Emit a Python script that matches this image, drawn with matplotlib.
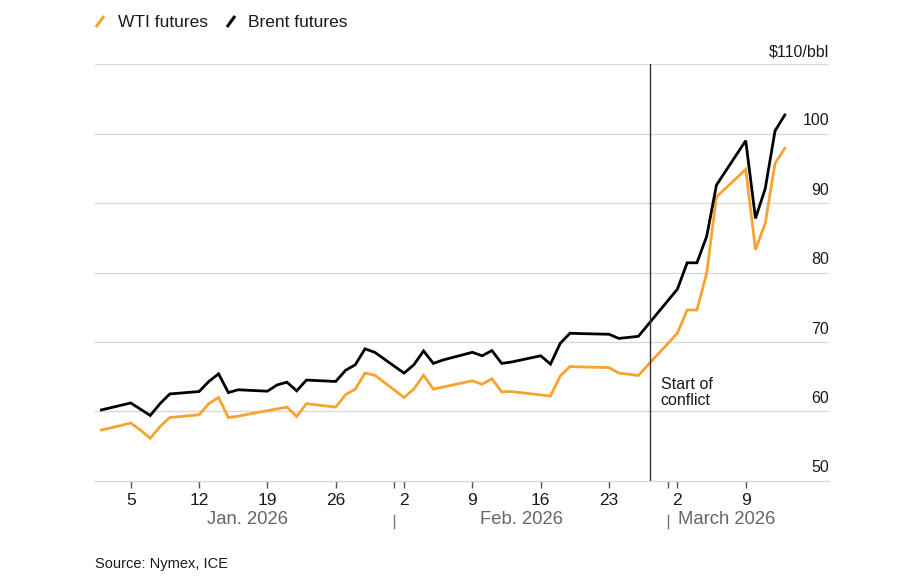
import pandas as pd
import matplotlib
matplotlib.use("Agg")
import matplotlib.pyplot as plt
import matplotlib.transforms as mtransforms
from matplotlib.lines import Line2D

plt.rcParams['font.family'] = ['Liberation Sans', 'DejaVu Sans']

# Brent futures, $/bbl
brent_dates = ['2026-01-02', '2026-01-05', '2026-01-06', '2026-01-07', '2026-01-08', '2026-01-09',
               '2026-01-12', '2026-01-13', '2026-01-14', '2026-01-15', '2026-01-16',
               '2026-01-19', '2026-01-20', '2026-01-21', '2026-01-22', '2026-01-23',
               '2026-01-26', '2026-01-27', '2026-01-28', '2026-01-29', '2026-01-30',
               '2026-02-02', '2026-02-03', '2026-02-04', '2026-02-05', '2026-02-06',
               '2026-02-09', '2026-02-10', '2026-02-11', '2026-02-12', '2026-02-13',
               '2026-02-16', '2026-02-17', '2026-02-18', '2026-02-19', '2026-02-20',
               '2026-02-23', '2026-02-24', '2026-02-25', '2026-02-26', '2026-02-27',
               '2026-03-02', '2026-03-03', '2026-03-04', '2026-03-05', '2026-03-06',
               '2026-03-09', '2026-03-10', '2026-03-11', '2026-03-12', '2026-03-13']
brent_vals = [60.2, 61.2, 60.3, 59.4, 61.1, 62.5,
              62.85, 64.3, 65.4, 62.7, 63.1,
              62.9, 63.8, 64.2, 62.95, 64.5,
              64.3, 65.9, 66.7, 69.0, 68.5,
              65.5, 66.7, 68.7, 66.9, 67.4,
              68.5, 68.0, 68.75, 66.9, 67.1,
              68.0, 66.8, 69.8, 71.25, 71.2,
              71.1, 70.5, 70.65, 70.8, 72.5,
              77.6, 81.4, 81.4, 85.2, 92.6,
              99.0, 87.8, 92.1, 100.4, 102.7]

# WTI futures, $/bbl (no Nymex settle on US holidays)
wti_dates = ['2026-01-02', '2026-01-05', '2026-01-06', '2026-01-07', '2026-01-08', '2026-01-09',
             '2026-01-12', '2026-01-13', '2026-01-14', '2026-01-15', '2026-01-16',
             '2026-01-20', '2026-01-21', '2026-01-22', '2026-01-23',
             '2026-01-26', '2026-01-27', '2026-01-28', '2026-01-29', '2026-01-30',
             '2026-02-02', '2026-02-03', '2026-02-04', '2026-02-05', '2026-02-06',
             '2026-02-09', '2026-02-10', '2026-02-11', '2026-02-12', '2026-02-13',
             '2026-02-17', '2026-02-18', '2026-02-19', '2026-02-20',
             '2026-02-23', '2026-02-24', '2026-02-25', '2026-02-26', '2026-02-27',
             '2026-03-02', '2026-03-03', '2026-03-04', '2026-03-05', '2026-03-06',
             '2026-03-09', '2026-03-10', '2026-03-11', '2026-03-12', '2026-03-13']
wti_vals = [57.3, 58.3, 57.3, 56.1, 57.8, 59.1,
            59.5, 61.1, 62.0, 59.1, 59.3,
            60.35, 60.6, 59.25, 61.1,
            60.6, 62.4, 63.2, 65.5, 65.2,
            62.0, 63.2, 65.2, 63.2, 63.5,
            64.4, 63.9, 64.7, 62.8, 62.85,
            62.2, 65.1, 66.45, 66.4,
            66.3, 65.5, 65.35, 65.15, 66.7,
            71.25, 74.6, 74.6, 79.9, 90.9,
            94.85, 83.3, 87.1, 95.7, 97.9]

tick_dates = ['2026-01-05', '2026-01-12', '2026-01-19', '2026-01-26', '2026-02-02',
              '2026-02-09', '2026-02-16', '2026-02-23', '2026-03-02', '2026-03-09']
tick_labels = ['5', '12', '19', '26', '2', '9', '16', '23', '2', '9']
month_starts = ['2026-02-01', '2026-03-01']
y_ticks = [50, 60, 70, 80, 90, 100, 110]
conflict_date = '2026-02-27 05:00'

WTI_COLOR = '#f8a22f'
BRENT_COLOR = '#000000'

fig = plt.figure(figsize=(9, 5.86), dpi=100)
ax = fig.add_axes([95 / 900, 1 - 480.7 / 586, 734 / 900, 416.4 / 586])

bd = pd.to_datetime(brent_dates)
wd = pd.to_datetime(wti_dates)
ax.plot(wd, wti_vals, color=WTI_COLOR, lw=2.0, solid_joinstyle='miter', zorder=3)
ax.plot(bd, brent_vals, color=BRENT_COLOR, lw=2.0, solid_joinstyle='miter', zorder=4)

# x range
x0 = pd.Timestamp('2026-01-05') - pd.Timedelta(days=3.66)
x1 = pd.Timestamp('2026-01-05') + pd.Timedelta(days=71.53)
ax.set_xlim(x0, x1)
ax.set_ylim(50, 110)

# grid + spines
for v in y_ticks[1:]:
    ax.axhline(v, color='#d9d9d9', lw=1, zorder=1)
for s in ['top', 'right', 'left']:
    ax.spines[s].set_visible(False)
ax.spines['bottom'].set_color('#d9d9d9')
ax.spines['bottom'].set_linewidth(1)
ax.set_yticks([])

# y labels on right, sitting above gridlines
for v in y_ticks:
    lab = '$110/bbl' if v == 110 else str(v)
    ax.text(x1, v + 0.75, lab, ha='right', va='bottom', fontsize=11.5, color='#1a1a1a')

# x ticks
ax.set_xticks(pd.to_datetime(tick_dates))
ax.set_xticklabels(tick_labels, fontsize=12.5, color='#1a1a1a')
ax.set_xticks(pd.to_datetime(month_starts), minor=True)
ax.tick_params(axis='x', which='both', length=5, width=1, color='#555555', pad=4)

# month labels and separators
trans = mtransforms.blended_transform_factory(ax.transData, ax.transAxes)
ax.text(pd.Timestamp('2026-01-17'), -0.094, 'Jan. 2026', transform=trans, ha='center', va='center',
        fontsize=13.3, color='#666666')
ax.text(pd.Timestamp('2026-02-14'), -0.094, 'Feb. 2026', transform=trans, ha='center', va='center',
        fontsize=13.3, color='#666666')
ax.text(pd.Timestamp('2026-03-02') + pd.Timedelta(hours=2), -0.094, 'March 2026', transform=trans,
        ha='left', va='center', fontsize=13.3, color='#666666')
for m in month_starts:
    ax.plot([pd.Timestamp(m), pd.Timestamp(m)], [-0.082, -0.114], transform=trans, color='#777777',
            lw=1, clip_on=False)

# start of conflict marker
cd = pd.Timestamp(conflict_date)
ax.axvline(cd, color='#333333', lw=1, zorder=5)
ax.annotate('Start of\nconflict', xy=(cd, 62.7), xytext=(7.5, 0), textcoords='offset points',
            ha='left', va='center', fontsize=11.5, color='#1a1a1a', linespacing=1.05)

# legend
fig.add_artist(Line2D([96 / 900, 104 / 900], [1 - 27 / 586, 1 - 16 / 586], color=WTI_COLOR, lw=2.2,
                      solid_capstyle='butt'))
fig.text(118 / 900, 1 - 27 / 586, 'WTI futures', fontsize=12.5, color='#1a1a1a', va='baseline')
fig.add_artist(Line2D([227 / 900, 235 / 900], [1 - 27 / 586, 1 - 16 / 586], color=BRENT_COLOR, lw=2.2,
                      solid_capstyle='butt'))
fig.text(248 / 900, 1 - 27 / 586, 'Brent futures', fontsize=12.5, color='#1a1a1a', va='baseline')

# source
fig.text(95 / 900, 1 - 568 / 586, 'Source: Nymex, ICE', fontsize=10.5, color='#1a1a1a', va='baseline')

fig.savefig('out.png', dpi=100)
